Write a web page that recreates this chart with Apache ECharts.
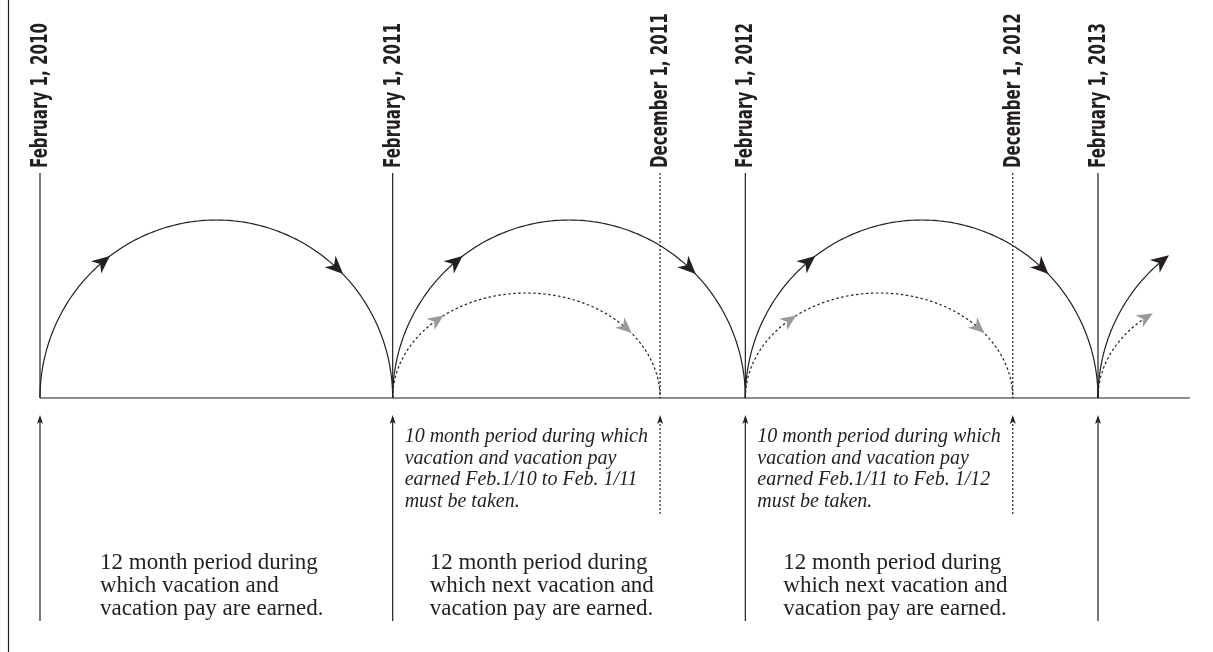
<!DOCTYPE html>
<html><head><meta charset="utf-8">
<script src="https://cdn.jsdelivr.net/npm/echarts@6/dist/echarts.min.js"></script>
<style>html,body{margin:0;padding:0;background:#fff}#c{width:1213px;height:652px}</style>
</head><body><div id="c"></div>
<script>
// ---- data ----
const markerLabels = ['February 1, 2010','February 1, 2011','December 1, 2011','February 1, 2012','December 1, 2012','February 1, 2013'];
const markerMonths = [0, 12, 21.1, 24, 33.1, 36];
const markerKinds = ['solid','solid','dotted','solid','dotted','solid'];
// earning arcs: [startMonth, endMonth, height, stopAngleDeg (0 = full arc)]
const earnStart = [0, 12, 24, 36];
const earnEnd = [12, 24, 36, 48];
const earnHeight = [178, 178, 178, 178];
const earnStop = [0, 0, 0, 128];
const earnArrowAngles = [130, 47];
// taking arcs
const takeStart = [12, 24, 36];
const takeEnd = [21.1, 33.1, 45.1];
const takeHeight = [105, 105, 105];
const takeStop = [0, 0, 128];
const takeArrowAngles = [132, 42];
// notes
const earnNotes = [
  '12 month period during\nwhich vacation and\nvacation pay are earned.',
  '12 month period during\nwhich next vacation and\nvacation pay are earned.',
  '12 month period during\nwhich next vacation and\nvacation pay are earned.'
];
const earnNoteMonths = [0, 12, 24];
const takeNotes = [
  '10 month period during which\nvacation and vacation pay\nearned Feb.1/10 to Feb. 1/11\nmust be taken.',
  '10 month period during which\nvacation and vacation pay\nearned Feb.1/11 to Feb. 1/12\nmust be taken.'
];
const takeNoteMonths = [12, 24];

// ---- styles / layout ----
const INK = '#231f20';
const GREY = '#9a9a9a';
const LAY = { lineTop: 225, arrowTip: -17, solidEnd: -223, dottedEnd: -117, labelBottom: 168, labelLen: 145,
  earnNoteDx: [60, 37, 38], earnNoteTop: 551, takeNoteDx: 12, takeNoteTop: 426 };
const LABEL_FONT = 'bold 23px "DejaVu Sans Condensed", "DejaVu Sans", sans-serif';
const labelScale = (function(){
  const ctx=document.createElement('canvas').getContext('2d');
  ctx.font=LABEL_FONT;
  return LAY.labelLen/ctx.measureText(markerLabels[0]).width;
})();

function norm(v){const l=Math.hypot(v[0],v[1]);return [v[0]/l,v[1]/l];}
function arrowHead(tip, dir, len, halfW, notch, fill){
  const nx=-dir[1], ny=dir[0];
  const bx=tip[0]-dir[0]*len, by=tip[1]-dir[1]*len;
  const mx=tip[0]-dir[0]*len*(1-notch), my=tip[1]-dir[1]*len*(1-notch);
  return {type:'polygon', shape:{points:[tip,[bx+nx*halfW,by+ny*halfW],[mx,my],[bx-nx*halfW,by-ny*halfW]]}, style:{fill:fill}};
}

function arcRenderer(arrowAngles, dashed, arrowFill, alen, ahw){
  return function(params, api){
    const s=api.value(0), e=api.value(1), h=api.value(2), stop=api.value(3);
    const cx=(s+e)/2, rx=(e-s)/2;
    const P = th => api.coord([cx+rx*Math.cos(th*Math.PI/180), h*Math.sin(th*Math.PI/180)]);
    const pts=[];
    for(let th=180; th>=stop; th-=1) pts.push(P(th));
    if(stop>0) pts.push(P(stop));
    const children=[{type:'polyline', shape:{points:pts}, style:{fill:null, stroke:INK, lineWidth:1.2, lineDash: dashed?[2.5,2.5]:null}}];
    const angs = stop>0 ? [stop] : arrowAngles;
    angs.forEach(a=>{
      const p=P(a), q=P(a-1);
      const d=norm([q[0]-p[0], q[1]-p[1]]);
      const tip = stop>0 ? [p[0]+d[0]*4, p[1]+d[1]*4] : [p[0]+d[0]*alen/2, p[1]+d[1]*alen/2];
      children.push(arrowHead(tip, d, alen, ahw, 0.3, arrowFill));
    });
    return {type:'group', children};
  };
}

const chart = echarts.init(document.getElementById('c'));
chart.setOption({
  animation:false,
  backgroundColor:'#fff',
  grid:{left:40, right:23, top:0, bottom:0, outerBoundsMode:'none'},
  xAxis:{type:'value', min:0, max:39.13, show:false},
  yAxis:{type:'value', min:-254, max:398, show:false},
  graphic:[{type:'line', shape:{x1:8.5,y1:0,x2:8.5,y2:652}, style:{stroke:INK, lineWidth:1.2}}],
  series:[
    { type:'line', data:[[0,0],[39.13,0]], symbol:'none', silent:true,
      lineStyle:{color:INK, width:1.2} },
    { type:'custom', clip:false, silent:true,
      data: markerMonths.map((m,i)=>[m,0,i]),
      encode:{x:0,y:1},
      renderItem(params, api){
        const i=params.dataIndex, m=api.value(0);
        const dotted = markerKinds[i]==='dotted';
        const top=api.coord([m,LAY.lineTop]), base=api.coord([m,0]);
        const tip=api.coord([m,LAY.arrowTip]), end=api.coord([m, dotted?LAY.dottedEnd:LAY.solidEnd]);
        const ls={stroke:INK, lineWidth:1.2, lineDash: dotted?[2,2]:null};
        return {type:'group', children:[
          {type:'line', shape:{x1:top[0],y1:top[1],x2:base[0],y2:base[1]}, style:ls},
          {type:'line', shape:{x1:tip[0],y1:tip[1]+5,x2:end[0],y2:end[1]}, style:ls},
          arrowHead(tip,[0,-1],9,3,0.25,INK),
          {type:'text', x:top[0]+1, y:LAY.labelBottom, rotation:Math.PI/2, scaleX:labelScale, scaleY:1,
           style:{text:markerLabels[i], align:'left', verticalAlign:'middle', fill:INK, font:LABEL_FONT}}
        ]};
      }
    },
    { type:'custom', clip:false, silent:true,
      data: earnStart.map((s,i)=>[s, earnEnd[i], earnHeight[i], earnStop[i]]),
      encode:{x:0,y:2},
      renderItem: arcRenderer(earnArrowAngles, false, INK, 18, 8)
    },
    { type:'custom', clip:false, silent:true,
      data: takeStart.map((s,i)=>[s, takeEnd[i], takeHeight[i], takeStop[i]]),
      encode:{x:0,y:2},
      renderItem: arcRenderer(takeArrowAngles, true, GREY, 16, 7)
    },
    { type:'custom', clip:false, silent:true,
      data: earnNoteMonths.map((m,i)=>[m,0,i]),
      encode:{x:0,y:1},
      renderItem(params, api){
        const i=params.dataIndex, p=api.coord([api.value(0),0]);
        return {type:'text', x:p[0]+LAY.earnNoteDx[i], y:LAY.earnNoteTop,
          style:{text:earnNotes[i], fill:INK, align:'left', verticalAlign:'top',
                 font:'23px "Liberation Serif", serif', lineHeight:23}};
      }
    },
    { type:'custom', clip:false, silent:true,
      data: takeNoteMonths.map((m,i)=>[m,0,i]),
      encode:{x:0,y:1},
      renderItem(params, api){
        const i=params.dataIndex, p=api.coord([api.value(0),0]);
        return {type:'text', x:p[0]+LAY.takeNoteDx, y:LAY.takeNoteTop,
          style:{text:takeNotes[i], fill:INK, align:'left', verticalAlign:'top',
                 font:'italic 20px "Liberation Serif", serif', lineHeight:21.5}};
      }
    }
  ]
});
</script>
</body></html>
